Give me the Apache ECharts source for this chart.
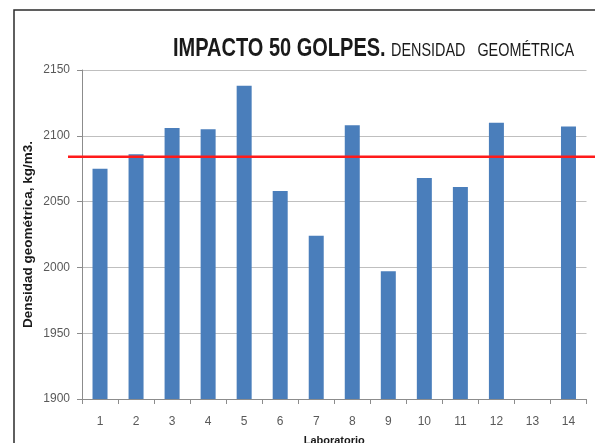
<!DOCTYPE html>
<html>
<head>
<meta charset="UTF-8">
<script src="https://cdn.jsdelivr.net/npm/echarts@6/dist/echarts.min.js"></script>
<title>Impacto 50 golpes</title>
<style>
  html, body { margin: 0; padding: 0; background: #fff; }
  #chart { width: 595px; height: 443px; }
</style>
</head>
<body>
<div id="chart"></div>
<script type="text/javascript">
    // datos
    var laboratorios = ['1', '2', '3', '4', '5', '6', '7', '8', '9', '10', '11', '12', '13', '14'];
    var densidad = [2075, 2086, 2106, 2105, 2138, 2058, 2024, 2108, 1997, 2068, 2061, 2110, null, 2107];
    var valorReferencia = 2084;
    var ejeY = { min: 1900, max: 2150, interval: 50 };

    var fuente = '"Liberation Sans", Arial, sans-serif';

    var myChart = echarts.init(document.getElementById('chart'));

    myChart.setOption({
        animation: false,
        graphic: [
            // marco exterior
            {
                type: 'rect',
                shape: { x: 14, y: 10, width: 620, height: 460 },
                style: { fill: null, stroke: '#2b2b2b', lineWidth: 1.5 },
                silent: true
            },
            // titulo (estrechado para parecerse a la fuente original)
            {
                type: 'text',
                x: 173,
                y: 49,
                scaleX: 0.8,
                style: {
                    text: 'IMPACTO 50 GOLPES.',
                    font: 'bold 25px ' + fuente,
                    fill: '#1a1a1a',
                    verticalAlign: 'middle'
                }
            },
            {
                type: 'text',
                x: 391,
                y: 51.5,
                scaleX: 0.8,
                style: {
                    text: 'DENSIDAD   GEOMÉTRICA',
                    font: '18px ' + fuente,
                    fill: '#1a1a1a',
                    verticalAlign: 'middle'
                }
            }
        ],
        grid: [
            { left: 82, right: 8.5, top: 70, bottom: 44, outerBoundsMode: 'none' },
            // grid auxiliar para la linea roja, que sale del area del grafico
            { left: 68, right: 0, top: 70, bottom: 44, outerBoundsMode: 'none' }
        ],
        xAxis: [
            {
                type: 'category',
                gridIndex: 0,
                data: laboratorios,
                name: 'Laboratorio',
                nameLocation: 'middle',
                nameGap: 36,
                nameMoveOverlap: false,
                nameTextStyle: {
                    fontFamily: fuente,
                    fontWeight: 'bold',
                    fontSize: 11,
                    color: '#1a1a1a'
                },
                axisLine: { lineStyle: { color: '#8c8c8c', width: 1 } },
                axisTick: { show: true, length: 5, lineStyle: { color: '#8c8c8c' } },
                axisLabel: {
                    margin: 17,
                    fontFamily: fuente,
                    fontSize: 12,
                    color: '#595959'
                },
                splitLine: { show: false }
            },
            {
                type: 'value',
                gridIndex: 1,
                min: 0,
                max: 1,
                show: false
            }
        ],
        yAxis: [
            {
                type: 'value',
                gridIndex: 0,
                min: ejeY.min,
                max: ejeY.max,
                interval: ejeY.interval,
                name: 'Densidad geométrica, kg/m3.',
                nameLocation: 'middle',
                nameGap: 47,
                nameMoveOverlap: false,
                nameTextStyle: {
                    fontFamily: fuente,
                    fontWeight: 'bold',
                    fontSize: 13.5,
                    color: '#1a1a1a'
                },
                axisLine: { show: true, lineStyle: { color: '#8c8c8c', width: 1 } },
                axisTick: { show: true, length: 5, lineStyle: { color: '#8c8c8c' } },
                axisLabel: {
                    margin: 12,
                    fontFamily: fuente,
                    fontSize: 12,
                    color: '#595959',
                    formatter: function (v) { return String(v); }
                },
                splitLine: { show: true, lineStyle: { color: '#bfbfbf', width: 1 } }
            },
            {
                type: 'value',
                gridIndex: 1,
                min: ejeY.min,
                max: ejeY.max,
                show: false
            }
        ],
        series: [
            {
                name: 'Densidad',
                type: 'bar',
                xAxisIndex: 0,
                yAxisIndex: 0,
                barWidth: 15,
                data: densidad,
                itemStyle: { color: '#4a7ebb' }
            },
            {
                name: 'Referencia',
                type: 'line',
                xAxisIndex: 1,
                yAxisIndex: 1,
                symbol: 'none',
                z: 5,
                data: [[0, valorReferencia], [1, valorReferencia]],
                lineStyle: { color: '#ff1a1a', width: 2.5 }
            }
        ]
    });
</script>
</body>
</html>
